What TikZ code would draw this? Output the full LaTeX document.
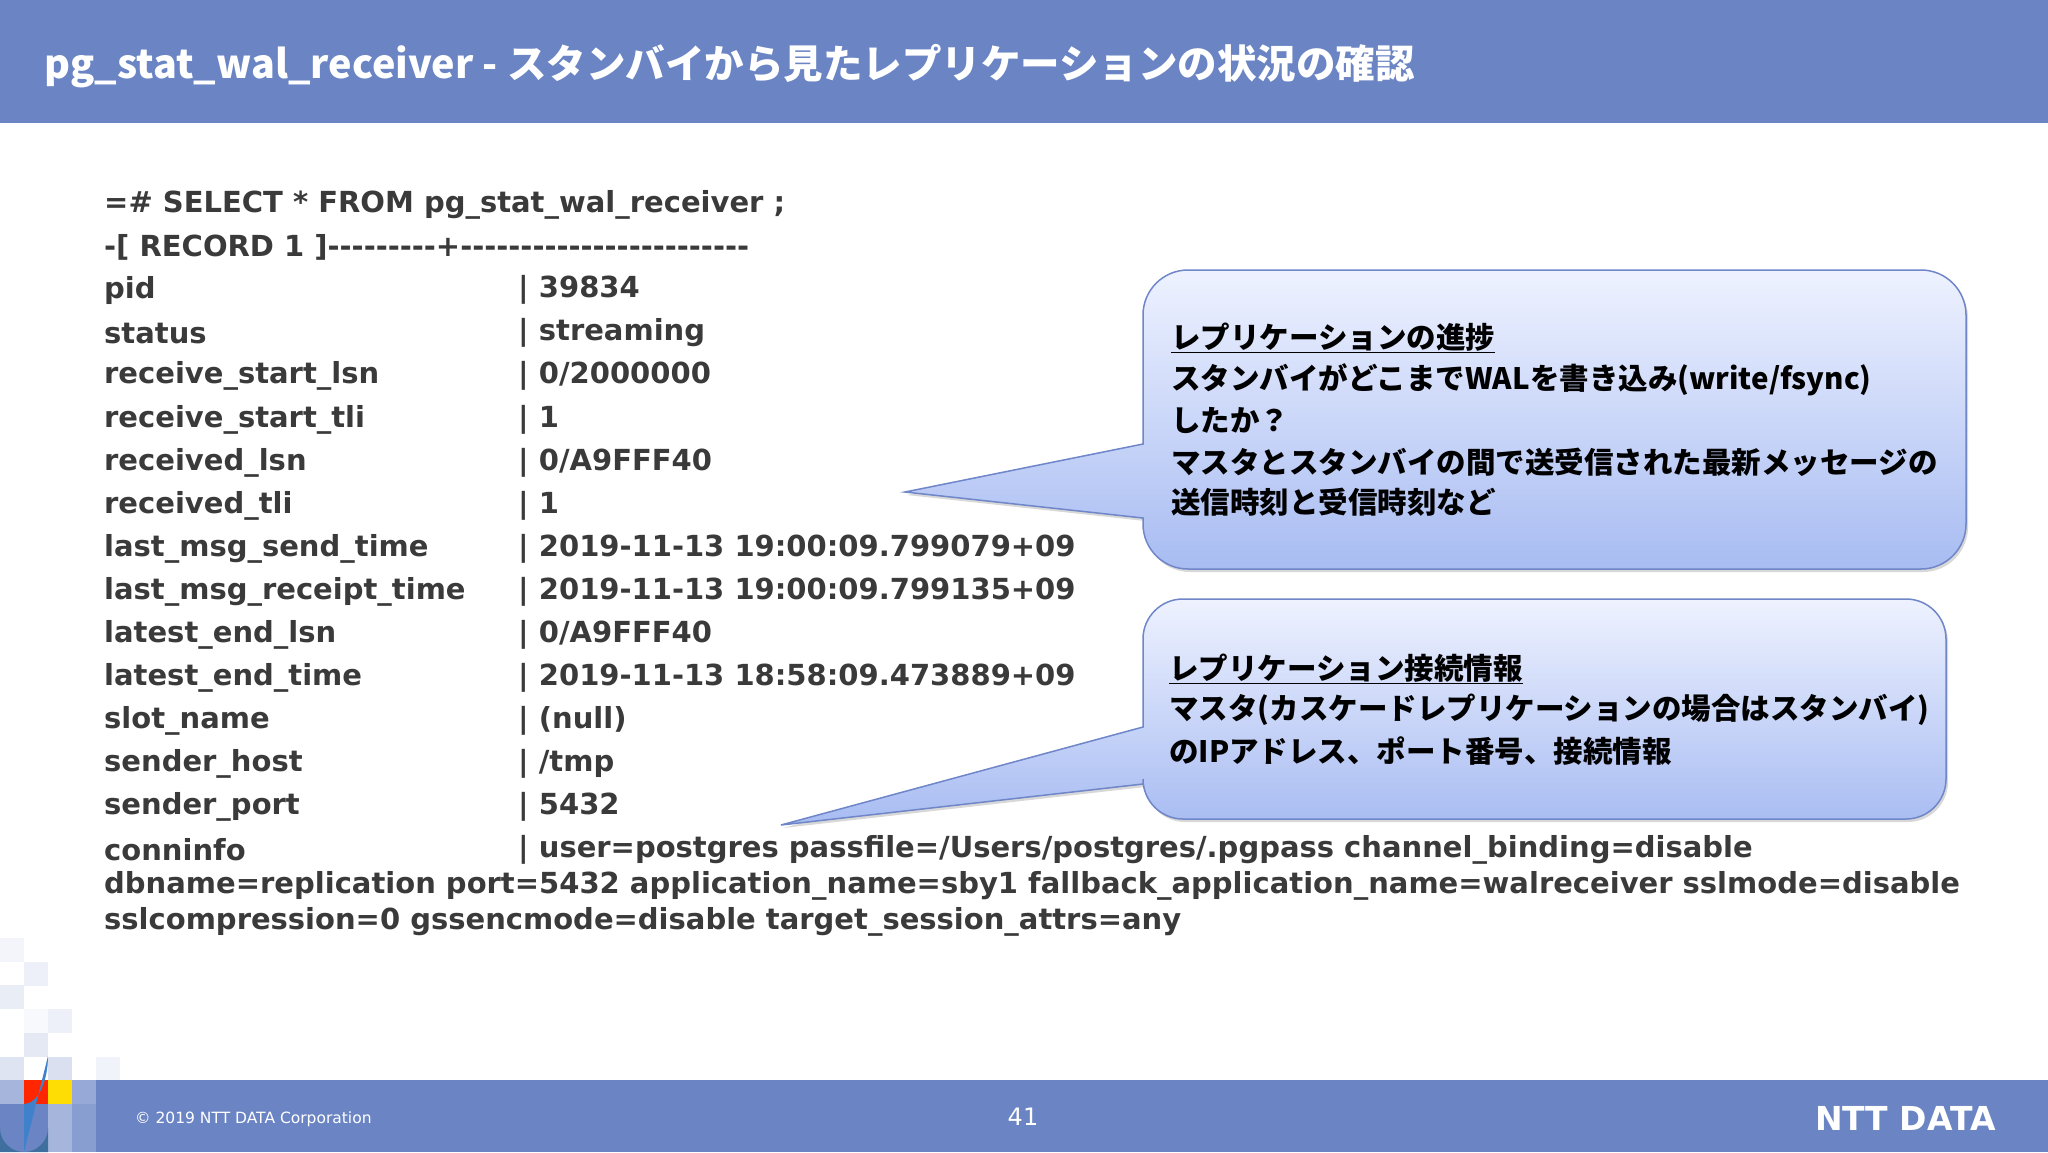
\documentclass[tikz,border=0pt]{standalone}
\usepackage{fontspec}
\setmainfont{DejaVu Sans}[Ligatures=TeXOff]
\newfontfamily\jp{Noto Sans CJK JP}
\usetikzlibrary{shadows}
\definecolor{bar}{HTML}{6A84C4}
\definecolor{txt}{HTML}{3A3A3A}
\definecolor{ctop}{HTML}{EEF2FF}
\definecolor{cbot}{HTML}{A8BCF2}
\definecolor{cline}{HTML}{6F86C8}
\tikzset{
 lst/.style={anchor=west,inner sep=0pt,text=txt,font=\fontsize{29}{32}\selectfont\bfseries},
 ctext/.style={anchor=west,inner sep=0pt,text=black,font=\jp\bfseries\fontsize{29.5}{34}\selectfont},
 callout/.style={draw=cline,line width=1.5pt,top color=ctop,bottom color=cbot,drop shadow={shadow xshift=2pt,shadow yshift=-3pt,opacity=0.3}},
 sq/.style={fill=#1,draw=none}
}
\begin{document}
\begin{tikzpicture}[x=1pt,y=-1pt]
\useasboundingbox (0,0) rectangle (2048,1152);
\fill[white] (0,0) rectangle (2048,1152);
% header
\fill[bar] (0,0) rectangle (2048,123);
\node[anchor=west,inner sep=0pt,text=white,font=\jp\bfseries\fontsize{39.5}{44}\selectfont] (title) at (44,66) {pg\_stat\_wal\_receiver - スタンバイから見たレプリケーションの状況の確認};
% listing
\node[lst] (l0) at (104,205) {=\# SELECT * FROM pg\_stat\_wal\_receiver ;};
\node[lst] (l1) at (104,247) {-[ RECORD 1 ]---------+------------------------};
\foreach \k/\n/\v [count=\i] in {
 pid/39834,
 status/streaming,
 receive\_start\_lsn/0\slash 2000000,
 receive\_start\_tli/1,
 received\_lsn/0\slash A9FFF40,
 received\_tli/1,
 last\_msg\_send\_time/2019-11-13 19:00:09.799079+09,
 last\_msg\_receipt\_time/2019-11-13 19:00:09.799135+09,
 latest\_end\_lsn/0\slash A9FFF40,
 latest\_end\_time/2019-11-13 18:58:09.473889+09,
 slot\_name/(null),
 sender\_host/\slash tmp,
 sender\_port/5432}
{
 \node[lst] (k\i) at (104,247+43.1*\i) {\k};
 \node[lst] (v\i) at (518,247+43.1*\i) {| \n};
}
\node[lst] (k14) at (104,850) {conninfo};
\node[lst] (v14) at (518,850) {| user=postgres passfile=/Users/postgres/.pgpass channel\_binding=disable};
\node[lst] (l15) at (104,886) {dbname=replication port=5432 application\_name=sby1 fallback\_application\_name=walreceiver sslmode=disable};
\node[lst] (l16) at (104,922) {sslcompression=0 gssencmode=disable target\_session\_attrs=any};
% callout 1
\coordinate (t1) at (905,492);
\draw[callout] (1143,518) -- (t1) -- (1143,444) [rounded corners=45pt] -- (1143,270) -- (1966,270) -- (1966,569) -- (1143,569) [sharp corners] -- cycle;
\node[ctext] (c1a) at (1171,338) {\underline{レプリケーションの進捗}};
\node[ctext] (c1b) at (1171,380) {スタンバイがどこまでWALを書き込み(write/fsync)};
\node[ctext] (c1c) at (1171,421) {したか？};
\node[ctext] (c1d) at (1171,462) {マスタとスタンバイの間で送受信された最新メッセージの};
\node[ctext] (c1e) at (1171,502) {送信時刻と受信時刻など};
% callout 2
\coordinate (t2) at (781,825);
\draw[callout] (1143,784) -- (t2) -- (1143,727) [rounded corners=40pt] -- (1143,599) -- (1946,599) -- (1946,819) -- (1143,819) [sharp corners] -- cycle;
\node[ctext] (c2a) at (1169,669) {\underline{レプリケーション接続情報}};
\node[ctext] (c2b) at (1169,710) {マスタ(カスケードレプリケーションの場合はスタンバイ)};
\node[ctext] (c2c) at (1169,751) {のIPアドレス、ポート番号、接続情報};
% mosaic
\foreach \x/\y/\c in {0/938/bar!8,24/962/bar!12,0/985/bar!15,48/1009/bar!12,24/1033/bar!18,0/1057/bar!22,48/1057/bar!25,96/1057/bar!10,24/1009/bar!5}
 \fill[sq=\c] (\x,\y) rectangle ++(24,24);
% footer
\fill[bar] (0,1080) rectangle (2048,1152);
\fill[sq=bar!60!white] (0,1080) rectangle (24,1104);
\fill[sq={red!70!orange}] (24,1080) rectangle (48,1104);
\fill[sq={yellow!80!orange}] (48,1080) rectangle (72,1104);
\fill[sq=bar!70!white] (72,1080) rectangle (96,1104);
\fill[sq=bar!60!white] (48,1104) rectangle (72,1152);
\fill[sq=bar!80!white] (72,1104) rectangle (96,1152);
\fill[sq={cyan!60!blue!70!black}] (0,1152) -- (0,1128) arc (180:0:24) -- (48,1152) -- cycle;
\fill[sq={cyan!50!blue!80}] (24,1104) arc (90:0:24 and 48) -- (24,1152) -- cycle;
\node[anchor=west,inner sep=0pt,text=white,font=\fontsize{15.5}{18}\selectfont] (copy) at (135,1119) {© 2019 NTT DATA Corporation};
\node[inner sep=0pt,text=white,font=\fontsize{24}{26}\selectfont] (pg) at (1023,1117) {41};
\node[anchor=east,inner sep=0pt,text=white,font=\fontsize{33}{36}\selectfont\bfseries] (logo) at (1996,1118) {NTT DATA};
\end{tikzpicture}
\end{document}
